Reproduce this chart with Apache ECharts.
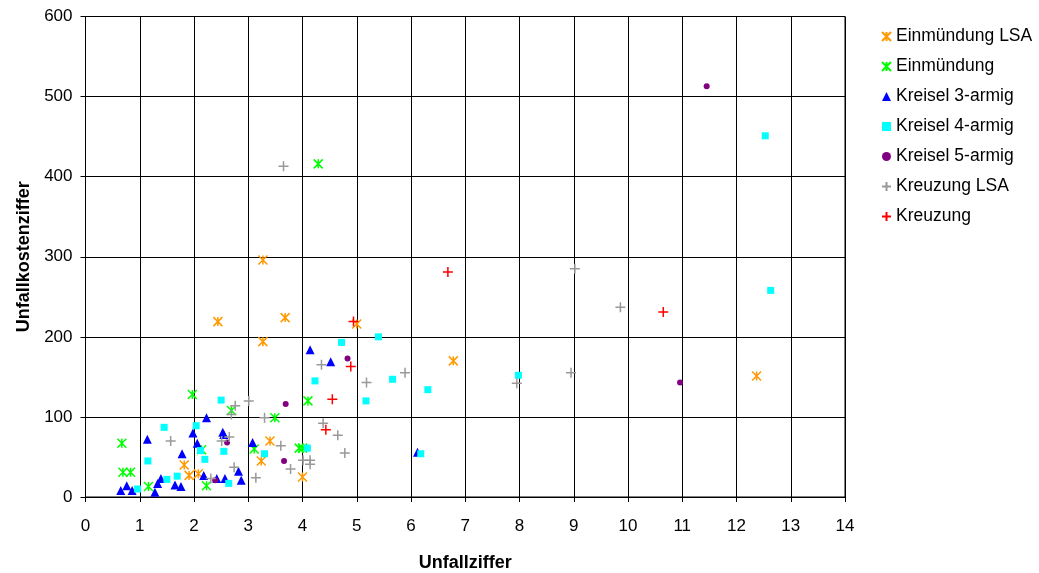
<!DOCTYPE html>
<html>
<head>
<meta charset="utf-8">
<script src="https://cdn.jsdelivr.net/npm/echarts@6/dist/echarts.min.js"></script>
<style>html,body{margin:0;padding:0;background:#fff}#c{width:1039px;height:573px}</style>
</head>
<body>
<div id="c"></div>
<script>
const xTicks = [0,1,2,3,4,5,6,7,8,9,10,11,12,13,14];
const yTicks = [0,100,200,300,400,500,600];

const einmuendungLSA = [[1.82,40],[1.91,27],[2.08,29],[2.44,219],[3.24,45],[3.27,296],[3.27,194],[3.40,70],[3.68,224],[4.0,25],[5.0,216],[6.78,170],[12.37,151]];
const einmuendung = [[0.67,67],[0.69,31],[0.83,31],[1.16,13],[1.97,128],[2.14,59],[2.23,14],[2.69,108],[3.11,60],[3.49,99],[3.94,61],[4.0,61],[4.10,120],[4.29,416]];
const kreisel3 = [[0.65,8],[0.76,14],[0.86,8],[1.14,72],[1.28,6],[1.33,17],[1.39,23],[1.65,15],[1.76,13],[1.78,54],[1.98,80],[2.06,67],[2.18,27],[2.23,99],[2.42,23],[2.53,81],[2.55,78],[2.57,23],[2.82,32],[2.87,21],[3.08,68],[4.14,184],[4.52,169],[6.12,56]];
const kreisel4 = [[0.96,10],[1.15,45],[1.45,87],[1.50,22],[1.69,26],[2.04,89],[2.12,58],[2.20,47],[2.50,121],[2.55,57],[2.64,17],[3.30,54],[4.09,61],[4.23,145],[4.72,193],[5.17,120],[5.40,200],[5.66,147],[6.18,54],[6.31,134],[7.98,152],[12.53,451],[12.63,258]];
const kreisel5 = [[2.39,21],[2.61,68],[3.66,45],[3.69,116],[4.83,173],[10.96,143],[11.45,513]];
const kreuzungLSA = [[1.57,70],[2.31,23],[2.51,70],[2.65,75],[2.69,103],[2.74,37],[2.76,114],[3.01,120],[3.14,24],[3.30,99],[3.60,64],[3.65,413],[3.78,35],[4.01,46],[4.14,46],[4.14,41],[4.35,165],[4.38,92],[4.65,77],[4.78,55],[5.18,143],[5.89,155],[7.95,142],[8.95,155],[9.02,285],[9.86,237]];
const kreuzung = [[4.43,84],[4.55,122],[4.89,163],[4.94,219],[6.68,281],[10.65,231]];

const seriesNames = ['Einmündung LSA','Einmündung','Kreisel 3-armig','Kreisel 4-armig','Kreisel 5-armig','Kreuzung LSA','Kreuzung'];

const STAR = 'path://M0,0L10,10M10,0L0,10M5,0L5,10';
const PLUS = 'path://M5,0L5,10M0,5L10,5';

function strokeSeries(name, data, symbol, color, size) {
  return {
    name, type: 'scatter', data, symbol, symbolSize: size,
    itemStyle: { color: 'rgba(0,0,0,0)', borderColor: color, borderWidth: 1.5, opacity: 1 },
    emphasis: { disabled: true }
  };
}
function fillSeries(name, data, symbol, color, size) {
  return {
    name, type: 'scatter', data, symbol, symbolSize: size,
    itemStyle: { color: color, opacity: 1 },
    emphasis: { disabled: true }
  };
}

const chart = echarts.init(document.getElementById('c'), null, { renderer: 'canvas' });
const FONT = 'Liberation Sans, Arial, sans-serif';
chart.setOption({
  animation: false,
  backgroundColor: '#fff',
  grid: { left: 85.5, right: 194, top: 16.5, bottom: 76, containLabel: false, outerBoundsMode: 'none', show: true, borderColor: '#000', borderWidth: 1, backgroundColor: 'transparent' },
  xAxis: {
    type: 'value', min: xTicks[0], max: xTicks[xTicks.length-1], interval: 1,
    name: 'Unfallziffer', nameLocation: 'middle', nameGap: 57,
    nameTextStyle: { fontFamily: FONT, fontSize: 18, fontWeight: 'bold', color: '#000' },
    axisLine: { show: true, onZero: false, lineStyle: { color: '#000', width: 1 } },
    axisTick: { show: true, inside: false, length: 5, lineStyle: { color: '#000' } },
    axisLabel: { fontFamily: FONT, fontSize: 17, color: '#000', margin: 21, formatter: v => String(v) },
    splitLine: { show: true, lineStyle: { color: '#000', width: 1 } }
  },
  yAxis: {
    type: 'value', min: yTicks[0], max: yTicks[yTicks.length-1], interval: 100,
    name: 'Unfallkostenziffer', nameLocation: 'middle', nameGap: 47,
    nameTextStyle: { fontFamily: FONT, fontSize: 18, fontWeight: 'bold', color: '#000' },
    axisLine: { show: true, onZero: false, lineStyle: { color: '#000', width: 1 } },
    axisTick: { show: true, inside: false, length: 5, lineStyle: { color: '#000' } },
    axisLabel: { fontFamily: FONT, fontSize: 17, color: '#000', margin: 13 },
    splitLine: { show: true, lineStyle: { color: '#000', width: 1 } }
  },
  legend: {
    orient: 'vertical', left: 876, top: 22, itemGap: 11, itemWidth: 9, itemHeight: 9,
    data: seriesNames,
    textStyle: { fontFamily: FONT, fontSize: 17.5, color: '#000', lineHeight: 19 }
  },
  series: [
    strokeSeries(seriesNames[0], einmuendungLSA, STAR, '#FF9900', 9),
    strokeSeries(seriesNames[1], einmuendung, STAR, '#00FF00', 9),
    fillSeries(seriesNames[2], kreisel3, 'triangle', '#0000FF', 9),
    fillSeries(seriesNames[3], kreisel4, 'rect', '#00FFFF', 7),
    fillSeries(seriesNames[4], kreisel5, 'circle', '#800080', 6),
    strokeSeries(seriesNames[5], kreuzungLSA, PLUS, '#999999', 10),
    strokeSeries(seriesNames[6], kreuzung, PLUS, '#FF0000', 10)
  ]
});
</script>
</body>
</html>
